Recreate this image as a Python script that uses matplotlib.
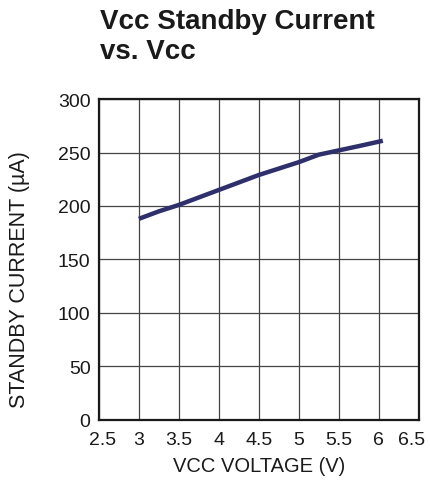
import numpy as np
import matplotlib
matplotlib.use("Agg")
import matplotlib.pyplot as plt
from matplotlib.transforms import ScaledTranslation

# data
vcc = [3.0, 3.25, 3.5, 4.0, 4.5, 5.0, 5.25, 5.5, 5.75, 6.05]
current = [188, 195, 201, 215, 229, 241, 248, 252, 256, 261]

xticks = [2.5, 3, 3.5, 4, 4.5, 5, 5.5, 6, 6.5]
xticklabels = ["2.5", "3", "3.5", "4", "4.5", "5", "5.5", "6", "6.5"]
yticks = [0, 50, 100, 150, 200, 250, 300]

plt.rcParams['font.family'] = ['Liberation Sans', 'DejaVu Sans']

fig = plt.figure(figsize=(4.3, 4.81), dpi=100)
ax = fig.add_axes([0.230, 0.125, 0.744, 0.667])

ax.plot(vcc, current, color='#2e2f6b', lw=3.2, solid_capstyle='butt')

ax.set_xlim(2.5, 6.5)
ax.set_ylim(0, 300)
ax.set_xticks(xticks)
ax.set_xticklabels(xticklabels)
ax.set_yticks(yticks)
ax.grid(True, color='#444444', lw=0.9)
ax.tick_params(length=0, labelsize=14, colors='#1a1a1a')
ax.tick_params(axis='y', pad=6)
ax.tick_params(axis='x', pad=8)
for s in ax.spines.values():
    s.set_linewidth(1.6)
    s.set_color('#1a1a1a')

# labels in the original sit slightly inward of the outer ticks
lbls = ax.get_xticklabels()
lbls[0].set_transform(lbls[0].get_transform() + ScaledTranslation(4/100, 0, fig.dpi_scale_trans))
lbls[-1].set_transform(lbls[-1].get_transform() + ScaledTranslation(-7/100, 0, fig.dpi_scale_trans))

ax.set_xlabel("VCC VOLTAGE (V)", fontsize=14.5, color='#1a1a1a', labelpad=6)
ax.set_ylabel("STANDBY CURRENT (µA)", fontsize=15.5, color='#1a1a1a')
ax.yaxis.set_label_coords(-0.214, 0.442)

fig.text(0.232, 0.982, "Vcc Standby Current\nvs. Vcc", fontsize=20,
         fontweight='bold', va='top', ha='left', color='#1a1a1a',
         linespacing=1.23)

fig.savefig("out.png", dpi=100)
